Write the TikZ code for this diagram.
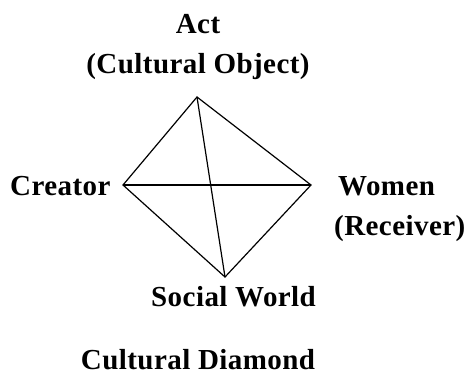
\documentclass[tikz,border=0pt]{standalone}
\usepackage{fontspec}
\setmainfont{Liberation Serif}[LetterSpace=1.5]
\begin{document}
\begin{tikzpicture}[x=1pt,y=-1pt,
  lbl/.style={inner sep=0pt,font=\fontsize{29}{34}\selectfont\bfseries},
  edge/.style={line width=1.2pt,line join=miter}]
\useasboundingbox (0,0) rectangle (475,375);
\coordinate (T) at (197,97);
\coordinate (L) at (123,185);
\coordinate (R) at (311,185);
\coordinate (B) at (225,277);
\draw[edge] (T) -- (L) -- (B) -- (R) -- cycle;
\draw[edge] (L) -- (R);
\draw[edge] (T) -- (B);
\node[lbl,anchor=base] (act) at (198,33) {Act};
\node[lbl,anchor=base] (obj) at (198,73) {(Cultural Object)};
\node[lbl,anchor=base west] (cre) at (10,195) {Creator};
\node[lbl,anchor=base west] (wom) at (338,195) {Women};
\node[lbl,anchor=base west] (rec) at (334,235) {(Receiver)};
\node[lbl,anchor=base west] (soc) at (151,306) {Social World};
\node[lbl,anchor=base] (dia) at (198,369) {Cultural Diamond};
\end{tikzpicture}
\end{document}
